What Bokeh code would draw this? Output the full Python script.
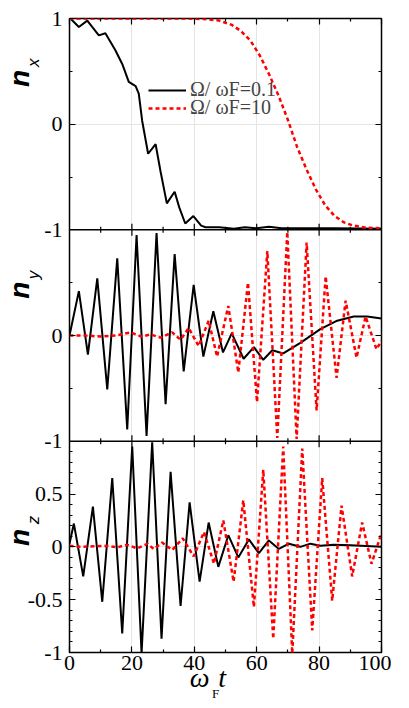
import math
from bokeh.plotting import figure
from bokeh.models import (Range1d, LinearAxis, FixedTicker, Span, Legend,
                          LegendItem)
from bokeh.embed import file_html
from bokeh.resources import INLINE

# ---------------- data ----------------
# panel 1: n_x
t_nx_slow = [0, 0.3, 3.0, 5.7, 9.4, 11.5, 14.7, 16.9, 19.0, 21.2, 22.2, 23.3, 25.2,
             27.6, 29.2, 31.2, 33.7, 35.2, 37.1, 39.7, 42.2, 43.6, 48, 52.7, 56.2,
             60, 63.9, 68, 76, 85, 100]
nx_slow = [1, 1.0, 0.92, 0.98, 0.84, 0.86, 0.70, 0.57, 0.40, 0.36, 0.29, 0.03, -0.28,
           -0.19, -0.45, -0.75, -0.64, -0.79, -0.94, -0.87, -0.96, -0.975, -0.975,
           -0.99, -0.975, -0.985, -0.97, -0.985, -0.985, -0.985, -0.99]
t_nx_fast = [0, 20, 38, 43, 48, 52, 55, 58, 61, 64, 67, 70, 73, 76, 79, 82, 85, 88,
             91, 95, 100]
nx_fast = [1, 1, 1, 0.995, 0.98, 0.94, 0.88, 0.79, 0.65, 0.47, 0.27, 0.04, -0.22,
           -0.43, -0.62, -0.77, -0.87, -0.93, -0.96, -0.98, -0.985]

# panel 2: n_y
t_ny_slow = [0, 3.0, 5.9, 8.9, 12.1, 15.3, 18.5, 21.5, 24.7, 27.9, 30.8, 33.7, 36.6,
             39.8, 42.9, 46.1, 49.2, 52.0, 55.8, 59.1, 62.1, 65.0, 68.5, 74.0, 80.4,
             85.8, 91.1, 95.4, 100]
ny_slow = [0, 0.42, -0.18, 0.54, -0.51, 0.73, -0.89, 0.95, -0.95, 0.97, -0.65, 0.77,
           -0.34, 0.48, -0.20, 0.23, -0.16, 0.02, -0.22, -0.11, -0.23, -0.14, -0.17,
           -0.07, 0.06, 0.14, 0.18, 0.18, 0.16]
t_ny_fast = [0, 5, 10, 15, 19.6, 23, 26, 29.2, 32.9, 35.6, 38.2, 41.4, 44.6, 47.3,
             50.9, 54.1, 57.2, 60.1, 63.4, 66.6, 69.8, 72.8, 76.0, 79.2, 82.1, 85.6,
             88.5, 92.0, 94.9, 98.4, 100]
ny_fast = [0, 0.0, -0.01, 0.0, 0.03, -0.01, 0.01, -0.02, 0.03, -0.04, 0.07, -0.10,
           0.14, -0.20, 0.28, -0.35, 0.50, -0.63, 0.80, -0.97, 0.98, -0.98, 0.88,
           -0.71, 0.56, -0.40, 0.33, -0.21, 0.18, -0.13, -0.05]

# panel 3: n_z
t_nz_slow = [0, 1.4, 4.4, 7.5, 10.5, 13.7, 16.9, 20.1, 23.1, 26.5, 29.5, 32.4, 35.6,
             38.5, 41.7, 44.6, 47.7, 50.9, 54.1, 57.5, 60.7, 63.9, 67.1, 70.3, 74.0,
             77.2, 80.4, 84.7, 90.1, 100]
nz_slow = [0.03, 0.22, -0.28, 0.38, -0.52, 0.65, -0.82, 0.95, -1.01, 0.99, -0.87,
           0.71, -0.56, 0.42, -0.33, 0.23, -0.19, 0.11, -0.10, 0.07, -0.06, 0.06,
           -0.02, 0.03, 0.0, 0.03, 0.01, 0.02, 0.015, 0.0]
t_nz_fast = [0, 3.5, 7.8, 12, 15.3, 18.5, 21.7, 25, 27, 29.7, 32.9, 36.3, 39.8, 43.1,
             46.3, 49.3, 52.6, 55.7, 59.1, 62.1, 65.3, 68.5, 71.4, 74.6, 77.8, 81.0,
             84.2, 87.2, 90.6, 93.8, 96.8, 100]
nz_fast = [0.01, 0.0, 0.005, 0.01, -0.005, 0.02, -0.015, 0.03, -0.02, 0.04, -0.03,
           0.08, -0.09, 0.14, -0.16, 0.25, -0.33, 0.44, -0.57, 0.73, -0.87, 0.95,
           -1.01, 0.93, -0.79, 0.65, -0.51, 0.39, -0.28, 0.23, -0.16, 0.13]

legend_labels = ["Ω/ ωF=0.1", "Ω/ ωF=10"]

# ticks
x_major = [0, 20, 40, 60, 80, 100]
x_minor = [10, 30, 50, 70, 90]
nx_ticks = [-1, 0, 1]
nx_tick_labels = ["-1", "0", "1"]
nx_minor = [-0.5, 0.5]
ny_ticks = [-1, 0]
ny_tick_labels = ["-1", "0"]
ny_minor = [-0.5, 0.5]
nz_ticks = [-1, -0.5, 0, 0.5]
nz_tick_labels = ["-1", "-0.5", "0", "0.5"]
nz_minor = [-0.9, -0.8, -0.7, -0.6, -0.4, -0.3, -0.2, -0.1,
            0.1, 0.2, 0.3, 0.4, 0.6, 0.7, 0.8, 0.9]

# axis titles: panel name, main letter, subscript
panel_names = ["nx", "ny", "nz"]
title_main = ["n", "n", "n"]
title_sub = ["x", "y", "z"]
x_title_main = ["ω", "t"]
x_title_sub = ["F"]

# ---------------- layout ----------------
# shared "layout" scale: nz panel spans -1..1, ny 1..3, nx 3..5
offsets = {"nx": 4, "ny": 2, "nz": 0}
# vertical placement of the rotated titles inside each panel (panel units)
title_main_pos = {"nx": 0.432, "ny": 0.430, "nz": 0.089}
title_sub_pos = {"nx": 0.582, "ny": 0.572, "nz": 0.255}
x_title_main_pos = [41.7, 48.9]
x_title_sub_pos = [46.8]

p = figure(width=391, height=706, x_range=Range1d(0, 100), y_range=Range1d(-1, 5),
           output_backend="svg", toolbar_location=None,
           x_axis_location=None, y_axis_location=None,
           min_border_left=69, min_border_right=10, min_border_top=18,
           min_border_bottom=54)
p.extra_y_ranges = {"nx": Range1d(-5, 1), "ny": Range1d(-3, 3)}
p.outline_line_color = "black"
p.outline_line_width = 1.5
p.background_fill_color = "white"
p.border_fill_color = "white"

FONT_TICK = "Liberation Serif"


def style_axis(ax, labels=True):
    ax.axis_line_color = None
    ax.major_tick_in = 6
    ax.major_tick_out = 0
    ax.minor_tick_in = 3
    ax.minor_tick_out = 0
    ax.major_tick_line_color = "black"
    ax.minor_tick_line_color = "black"
    ax.major_tick_line_width = 1.2
    ax.minor_tick_line_width = 1.2
    ax.major_label_text_font = FONT_TICK
    if labels:
        ax.major_label_text_color = "black"
        ax.major_label_text_font_size = "22px"
    else:
        ax.major_label_text_color = None
        ax.major_label_text_font_size = "1px"
        ax.major_label_standoff = 0


def title_axis(ticks, texts, font, style, size, standoff, side):
    ax = LinearAxis(ticker=FixedTicker(ticks=ticks),
                    major_label_overrides=dict(zip(ticks, texts)))
    ax.axis_line_color = None
    ax.major_tick_line_color = None
    ax.minor_tick_line_color = None
    ax.major_tick_in = 0
    ax.major_tick_out = 0
    ax.major_label_text_font = font
    ax.major_label_text_font_style = style
    ax.major_label_text_font_size = size
    ax.major_label_text_color = "black"
    ax.major_label_standoff = standoff
    if side == "left":
        ax.major_label_orientation = "vertical"
    p.add_layout(ax, side)
    return ax


# x axes
xt = FixedTicker(ticks=x_major, minor_ticks=x_minor)
bottom = LinearAxis(ticker=xt)
style_axis(bottom)
bottom.major_label_standoff = 3
p.add_layout(bottom, "below")
top = LinearAxis(ticker=xt)
style_axis(top, labels=False)
p.add_layout(top, "above")

# y axes (one labelled axis carrying the three panels' ticks)
y_major, y_minor, overrides = [], [], {}
for name, tk, lb, mn in [("nz", nz_ticks, nz_tick_labels, nz_minor),
                         ("ny", ny_ticks, ny_tick_labels, ny_minor),
                         ("nx", nx_ticks, nx_tick_labels, nx_minor)]:
    for v, s in zip(tk, lb):
        y_major.append(v + offsets[name])
        overrides[v + offsets[name]] = s
    y_minor += [v + offsets[name] for v in mn]
yt = FixedTicker(ticks=y_major, minor_ticks=y_minor)
left = LinearAxis(ticker=yt, major_label_overrides=overrides)
style_axis(left)
left.major_label_standoff = 7
p.add_layout(left, "left")
right = LinearAxis(ticker=yt)
style_axis(right, labels=False)
p.add_layout(right, "right")

# rotated panel titles n_x, n_y, n_z (subscripts nearer the frame)
title_axis([title_sub_pos[n] + offsets[n] for n in panel_names], title_sub,
           "Liberation Sans", "italic", "17px", -19, "left")
title_axis([title_main_pos[n] + offsets[n] for n in panel_names], title_main,
           "Liberation Sans", "bold italic", "28px", -14, "left")
# x title  ω_F t
title_axis(x_title_main_pos, x_title_main, "Liberation Serif", "italic", "28px",
           -11, "below")
title_axis(x_title_sub_pos, x_title_sub, "Liberation Serif", "normal", "13px",
           -10, "below")

# panel separators and their inward ticks
for b in [1, 3]:
    p.add_layout(Span(location=b, dimension="width", line_color="black",
                      line_width=1.5))
    p.scatter(x=x_major[1:-1], y=[b] * (len(x_major) - 2), marker="dash",
              angle=math.pi / 2, size=12, line_color="black", line_width=1.2)
    p.scatter(x=x_minor, y=[b] * len(x_minor), marker="dash",
              angle=math.pi / 2, size=6, line_color="black", line_width=1.2)

# ---------------- curves ----------------
BLACK = dict(line_color="black", line_width=2)
RED = dict(line_color="#ff0000", line_width=2.5, line_dash="4 3")

r_nx_s = p.line(t_nx_slow, nx_slow, y_range_name="nx", **BLACK)
r_nx_f = p.line(t_nx_fast, nx_fast, y_range_name="nx", **RED)
p.line(t_ny_slow, ny_slow, y_range_name="ny", **BLACK)
p.line(t_ny_fast, ny_fast, y_range_name="ny", **RED)
p.line(t_nz_slow, nz_slow, **BLACK)
p.line(t_nz_fast, nz_fast, **RED)

for lab, rend, loc in [(legend_labels[0], r_nx_s, (79, 551)),
                       (legend_labels[1], r_nx_f, (79, 533))]:
    lg = Legend(items=[LegendItem(label=lab, renderers=[rend])],
                location=loc, border_line_color=None,
                background_fill_alpha=0, padding=0, margin=0, spacing=0,
                glyph_width=38, glyph_height=18, label_height=18,
                label_standoff=4, label_text_font=FONT_TICK,
                label_text_font_size="20px")
    p.add_layout(lg)

open("out.html", "w").write(file_html(p, INLINE))
